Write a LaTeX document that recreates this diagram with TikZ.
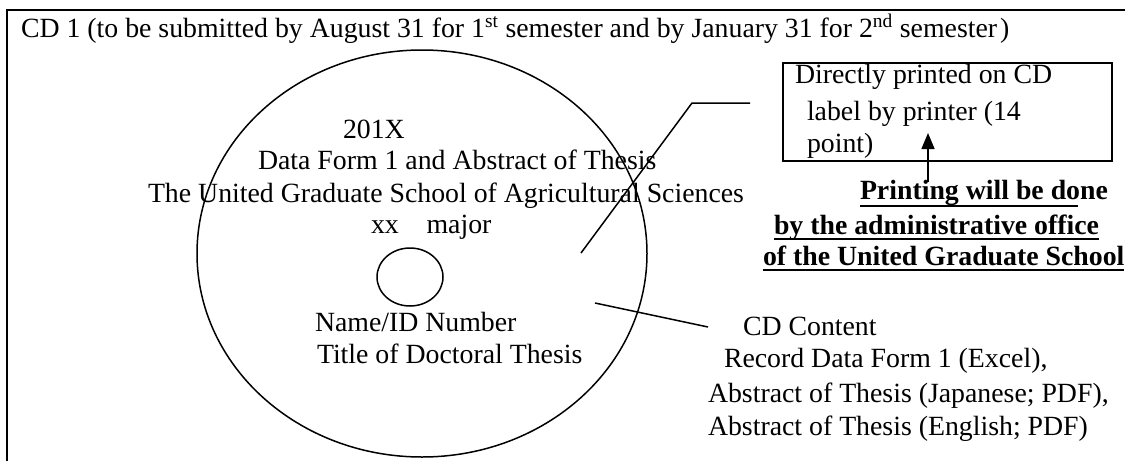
\documentclass[tikz,border=0pt]{standalone}
\usepackage{fontspec}
\setmainfont{Liberation Serif}
\usetikzlibrary{arrows.meta,shapes.geometric}
\tikzset{
  txt/.style={anchor=base west, inner sep=0pt, outer sep=0pt, font=\fontsize{27.8}{33}\selectfont},
  btxt/.style={txt, font=\fontsize{27.8}{33}\selectfont\bfseries},
  frameline/.style={line width=2pt},
  lw/.style={line width=1.5pt},
  uline/.style={line width=2pt},
}
\begin{document}
\begin{tikzpicture}[x=1pt,y=-1pt]
\useasboundingbox (0,0) rectangle (1129,461);
% frame
\coordinate (ftl) at (7,10);
\coordinate (ftr) at (1125,10);
\coordinate (fbl) at (7,461);
\draw[frameline] (ftr) -- (ftl) -- (fbl);
\node[txt] (title) at (21,37) {CD 1 (to be submitted by August 31 for 1\textsuperscript{st} semester and by January 31 for 2\textsuperscript{nd} semester\hspace{3pt})};
% disc
\node[draw, lw, ellipse, minimum width=450pt, minimum height=407pt, inner sep=0pt] (disc) at (422,253.5) {};
\node[draw, lw, ellipse, minimum width=66pt, minimum height=58pt, inner sep=0pt] (hole) at (410,277) {};
\node[txt] (year) at (343,138) {201X};
\node[txt] (form) at (258,169) {Data Form 1 and Abstract of Thesis};
\node[txt] (school) at (148,202) {The United Graduate School of Agricultural Sciences};
\node[txt] (major) at (371,233) {xx\hspace{1em}major};
\node[txt] (name) at (315,331) {Name/ID Number};
\node[txt] (thesis) at (317,363) {Title of Doctoral Thesis};
% label box
\node[draw, frameline, minimum width=329pt, minimum height=98pt, inner sep=0pt, anchor=north west] (box) at (782,62) {};
\node[txt] (b1) at (795,83) {Directly printed on CD};
\node[txt] (b2) at (807,120) {label by printer (14};
\node[txt] (b3) at (807,152) {point)};
% leader 1
\coordinate (l1a) at (581,253);
\coordinate (l1b) at (692,103);
\coordinate (l1c) at (750,103);
\draw[lw] (l1a) -- (l1b) -- (l1c);
% printing note
\node[btxt] (p1) at (860,199) {Printing will be done};
\node[btxt] (p2) at (774,234) {by the administrative office};
\node[btxt] (p3) at (763,265) {of the United Graduate School};
\draw[uline] ([yshift=-7pt]p1.base west) -- ++(218,0);
\draw[uline] ([yshift=-5pt]p2.base west) -- ([yshift=-5pt]p2.base east);
\draw[uline] ([yshift=-5pt]p3.base west) -- ([yshift=-5pt]p3.base east);
\coordinate (arS) at (928,182);
\coordinate (arE) at (928,133);
\draw[lw, -{Triangle[width=13pt,length=16pt]}] (arS) -- (arE);
% content
\coordinate (l2a) at (595,303);
\coordinate (l2b) at (708,327);
\draw[lw] (l2a) -- (l2b);
\node[txt] (c1) at (743,335) {CD Content};
\node[txt] (c2) at (724,367) {Record Data Form 1 (Excel),};
\node[txt] (c3) at (708,402) {Abstract of Thesis (Japanese; PDF),};
\node[txt] (c4) at (708,435) {Abstract of Thesis (English; PDF)};
\end{tikzpicture}
\end{document}
